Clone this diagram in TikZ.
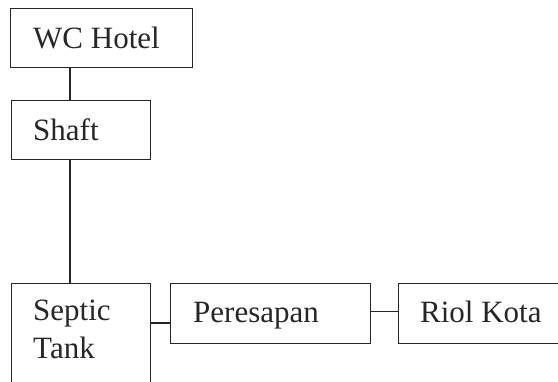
\documentclass[tikz,border=0pt]{standalone}
\usepackage{fontspec}
\setmainfont{Liberation Serif}
\begin{document}
\begin{tikzpicture}[x=1pt,y=-1pt,
  box/.style={draw=black!85,line width=1.3pt,rectangle,inner sep=0pt,anchor=north west},
  lbl/.style={anchor=base west,inner sep=0pt,align=left,text=black!85,
    font=\fontsize{31}{38}\selectfont},
  link/.style={draw=black!85,line width=1.3pt}]
\useasboundingbox (0,0) rectangle (558,381);
\clip (0,0) rectangle (558,381);
% boxes
\node[box,minimum width=182pt,minimum height=59pt] (wc) at (10,8) {};
\node[box,minimum width=139pt,minimum height=59pt] (shaft) at (11,100) {};
\node[box,minimum width=139pt,minimum height=130pt] (septic) at (11,283) {};
\node[box,minimum width=200pt,minimum height=60pt] (peresapan) at (170,283) {};
\node[box,minimum width=180pt,minimum height=60pt] (riol) at (398,283) {};
% labels (a multi-line label sits on the baseline of its last line)
\node[lbl] (wct) at (33,48) {WC Hotel};
\node[lbl] (shaftt) at (33,140) {Shaft};
\node[lbl] (septict) at (33,358) {Septic\\Tank};
\node[lbl] (peresapant) at (193,322) {Peresapan};
\node[lbl] (riolt) at (420,322) {Riol Kota};
% connectors
\draw[link] ([xshift=60pt]wc.south west) -- ([xshift=59pt]shaft.north west);
\draw[link] ([xshift=59pt]shaft.south west) -- ([xshift=59pt]septic.north west);
\coordinate (sj) at ([yshift=-40pt]septic.north east);
\draw[link] (sj) -- (sj -| peresapan.west);
\draw[link] ([yshift=2pt]peresapan.east) -- ([yshift=2pt]riol.west);
\end{tikzpicture}
\end{document}
